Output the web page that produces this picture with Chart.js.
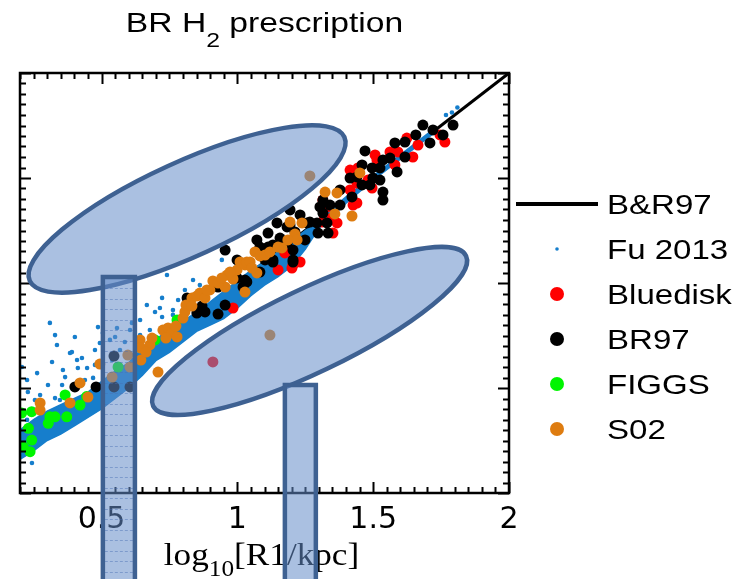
<!DOCTYPE html>
<html>
<head>
<meta charset="utf-8">
<script src="https://cdn.jsdelivr.net/npm/chart.js@4.4.1/dist/chart.umd.min.js"></script>
<style>
  html, body { margin: 0; padding: 0; background: #ffffff; }
  canvas { display: block; }
</style>
</head>
<body>
<canvas id="chart" width="746" height="579"></canvas>
<script>
// ---------------- data ----------------
const xTickValues = [0.5, 1, 1.5, 2];

// Blitz & Rosolowsky relation, one-to-one
const brRelation = [[0.2, 0.2], [2.0, 2.0]];

// Fu 2013 model galaxies: edges of the densely populated ridge
const fuRidgeX     = [0.20, 0.25, 0.30, 0.35, 0.40, 0.45, 0.50, 0.55, 0.60, 0.65, 0.70, 0.75, 0.80, 0.85, 0.90, 0.95, 1.00, 1.05, 1.10, 1.15, 1.20, 1.25, 1.30, 1.40, 1.50, 1.60, 1.72];
const fuRidgeUpper = [0.30, 0.35, 0.39, 0.42, 0.45, 0.48, 0.53, 0.58, 0.62, 0.69, 0.73, 0.78, 0.82, 0.86, 0.91, 0.96, 1.01, 1.06, 1.10, 1.15, 1.20, 1.25, 1.30, 1.41, 1.51, 1.61, 1.73];
const fuRidgeLower = [0.16, 0.20, 0.25, 0.28, 0.32, 0.36, 0.40, 0.45, 0.50, 0.56, 0.63, 0.67, 0.72, 0.77, 0.80, 0.83, 0.88, 0.94, 0.99, 1.03, 1.08, 1.16, 1.26, 1.38, 1.49, 1.59, 1.71];

// Fu 2013 model galaxies away from the ridge
const fuPoints = [
  [0.310,0.810],[0.329,0.752],[0.336,0.705],[0.402,0.743],[0.384,0.667],[0.318,0.624],
  [0.410,0.633],[0.428,0.643],[0.447,0.595],[0.413,0.595],[0.366,0.552],[0.303,0.514],
  [0.329,0.452],[0.229,0.481],[0.207,0.600],[0.255,0.443],[0.476,0.681],[0.494,0.714],
  [0.505,0.762],[0.550,0.743],[0.557,0.786],[0.586,0.719],[0.667,0.895],[0.715,0.881],
  [0.723,0.838],[0.763,0.871],[0.469,0.548],[0.465,0.443],[0.476,0.610],[0.539,0.633],
  [0.612,0.810],[0.391,0.671],[0.487,0.790],[0.723,0.929],[0.763,0.848],[0.226,0.348],
  [0.244,0.143],[0.741,1.038],[0.837,1.014],[0.943,1.110],[0.907,0.981],[0.678,0.776],
  [0.642,0.752],[0.807,0.919],[0.410,0.529],[0.358,0.586],[0.355,0.514],[0.439,0.538],
  [0.263,0.571],[0.226,0.538],[0.274,0.467],[0.347,0.443],[0.568,0.681],[0.531,0.729],
  [0.605,0.776],[0.642,0.824],[0.697,0.862],[0.807,0.967],[0.862,0.990],[0.782,0.919],
  [1.768,1.800],[1.790,1.812],[1.810,1.836]
];

const bluediskPoints = [
  [0.984,0.881],[1.150,1.062],[1.201,1.071],[1.175,1.143],[1.231,1.100],[1.205,1.086],
  [1.315,1.395],[1.330,1.362],[1.348,1.310],[1.367,1.286],[1.352,1.238],[1.312,1.290],
  [1.426,1.371],[1.440,1.381],[1.440,1.476],[1.415,1.538],[1.444,1.548],[1.415,1.443],
  [1.481,1.490],[1.496,1.452],[1.507,1.610],[1.514,1.586],[1.562,1.624],[1.580,1.562],
  [1.591,1.624],[1.624,1.690],[1.665,1.657],[1.646,1.600],[1.746,1.705],[1.764,1.671],
  [0.910,0.624]
];

const br97Points = [
  [0.402,0.505],[0.480,0.505],[0.546,0.652],[0.546,0.505],[0.605,0.505],[0.815,0.929],
  [0.851,0.857],[0.881,0.862],[0.929,0.852],[0.870,0.890],[0.955,0.895],[0.929,0.981],
  [1.035,1.005],[0.999,1.024],[1.021,0.981],[0.955,1.157],[0.999,1.110],[1.028,1.014],
  [1.072,1.205],[1.083,1.171],[1.113,1.238],[1.131,1.110],[1.146,1.286],[1.194,1.348],
  [1.205,1.100],[1.194,1.276],[1.113,1.171],[1.109,1.148],[1.212,1.243],[1.083,1.052],
  [1.231,1.324],[1.183,1.267],[1.256,1.286],[1.267,1.290],[1.157,1.214],[1.212,1.219],
  [1.183,1.190],[1.205,1.157],[1.249,1.205],[1.205,1.110],[1.131,1.181],[1.076,1.148],
  [1.102,1.110],[1.131,1.100],[1.293,1.286],[1.304,1.362],[1.315,1.395],[1.315,1.333],
  [1.330,1.286],[1.297,1.238],[1.334,1.238],[1.341,1.371],[1.378,1.443],[1.378,1.371],
  [1.422,1.410],[1.415,1.500],[1.440,1.505],[1.459,1.467],[1.488,1.467],[1.499,1.500],
  [1.525,1.490],[1.536,1.433],[1.536,1.395],[1.459,1.562],[1.496,1.548],[1.525,1.548],
  [1.588,1.529],[1.470,1.629],[1.536,1.586],[1.562,1.595],[1.580,1.667],[1.617,1.600],
  [1.617,1.671],[1.657,1.705],[1.683,1.752],[1.720,1.729],[1.757,1.705],[1.709,1.667],
  [1.794,1.752]
];

const figgsPoints = [
  [0.206,0.381],[0.243,0.387],[0.231,0.308],[0.212,0.220],[0.243,0.252],[0.237,0.197],
  [0.304,0.332],[0.329,0.363],[0.372,0.363],[0.366,0.467],[0.421,0.419],[0.445,0.459],
  [0.697,0.729],[0.778,0.824],[0.561,0.600],[0.310,0.363]
];

const s02Points = [
  [0.274,0.429],[0.274,0.395],[0.384,0.429],[0.421,0.524],[0.450,0.457],[0.494,0.614],
  [0.539,0.552],[0.597,0.657],[0.605,0.600],[0.642,0.729],[0.645,0.690],[0.645,0.633],
  [0.708,0.576],[0.726,0.776],[0.745,0.786],[0.759,0.762],[0.778,0.743],[0.800,0.833],
  [0.807,0.862],[0.833,0.929],[0.851,0.938],[0.862,0.952],[0.899,0.967],[0.910,1.010],
  [0.955,0.981],[0.962,1.038],[0.984,1.019],[0.999,1.062],[1.010,1.100],[1.028,1.086],
  [1.028,0.957],[1.035,1.100],[1.065,1.148],[1.072,1.048],[1.083,1.129],[1.164,1.167],
  [1.194,1.290],[1.212,1.233],[1.220,1.205],[1.238,1.286],[1.323,1.433],[1.367,1.429],
  [1.359,1.329],[1.422,1.319],[1.451,1.524],[1.267,1.510],[1.120,0.752],
  [0.811,0.895],[0.833,0.890],[0.881,0.929],[0.888,0.967],[0.929,1.000],[0.943,1.024],
  [0.973,1.052],[1.047,1.100],[1.054,1.071],[1.102,1.133],[1.120,1.148],[1.150,1.171],
  [1.186,1.205],[0.678,0.705],[0.664,0.671],[0.737,0.738],[0.774,0.795],[0.686,0.738]
];

// ---------------- styling ----------------
const colors = {
  relation: '#000000',
  fu: 'rgb(22,126,204)',
  bluedisk: '#ff0000',
  br97: '#000000',
  figgs: 'rgb(0,245,0)',
  s02: 'rgb(222,124,16)'
};
const SANS = '"Liberation Sans", Arial, sans-serif';
const SERIF = '"Liberation Serif", "Times New Roman", serif';
const TEXT_STRETCH = 1.18;

// highlight shapes, placed in axis units
const highlightEllipses = [
  { p1: [0.236, 1.010], p2: [1.394, 1.695], ratio: 0.272 },
  { p1: [0.690, 0.414], p2: [1.842, 1.129], ratio: 0.240 }
];
const highlightBars = [
  { x0: 0.505, x1: 0.623, top: 1.029, ruled: true },
  { x0: 1.175, x1: 1.289, top: 0.514, ruled: false }
];
const shapeFill = 'rgba(100,140,200,0.55)';
const shapeEdge = '#3e6192';

const toXY = arr => arr.map(p => ({ x: p[0], y: p[1] }));
const ridge = ys => fuRidgeX.map((x, i) => ({ x, y: ys[i] }));

const dotSet = (label, pts, color, r, order, legendR) => ({
  label, data: toXY(pts), backgroundColor: color, borderWidth: 0,
  pointRadius: r, pointHoverRadius: r, order, legend: { kind: 'dot', r: legendR }
});

// ---------------- plugins ----------------
function stretchedText(ctx, parts, x, baseline, align) {
  let w = 0;
  parts.forEach(p => { ctx.font = p.font; p.w = ctx.measureText(p.text).width; w += p.w; });
  ctx.save();
  ctx.translate(x, baseline);
  ctx.scale(parts.stretch || TEXT_STRETCH, 1);
  let cx = align === 'left' ? 0 : -w / 2;
  ctx.textBaseline = 'alphabetic';
  ctx.textAlign = 'left';
  ctx.fillStyle = '#000';
  parts.forEach(p => { ctx.font = p.font; ctx.fillText(p.text, cx, p.dy || 0); cx += p.w; });
  ctx.restore();
}

const frameAndTicks = {
  id: 'frameAndTicks',
  afterDatasetsDraw(chart) {
    const { ctx, chartArea: a, scales: { x, y } } = chart;
    ctx.save();
    ctx.strokeStyle = '#000';
    ctx.lineWidth = 2;
    ctx.lineCap = 'butt';
    const isMajor = v => Math.abs(v / 0.5 - Math.round(v / 0.5)) < 1e-6;
    ctx.beginPath();
    for (let i = 0; i <= 36; i++) {
      const v = 0.2 + i * 0.05;
      const px = Math.round(x.getPixelForValue(v)) + 0.5;
      const len = isMajor(v) ? 11 : 6;
      ctx.moveTo(px, a.bottom); ctx.lineTo(px, a.bottom - len);
      ctx.moveTo(px, a.top); ctx.lineTo(px, a.top + len);
    }
    for (let i = 0; i <= 40; i++) {
      const v = i * 0.05;
      const py = Math.round(y.getPixelForValue(v)) + 0.5;
      const len = isMajor(v) ? 11 : 6;
      ctx.moveTo(a.left, py); ctx.lineTo(a.left + len, py);
      ctx.moveTo(a.right, py); ctx.lineTo(a.right - len, py);
    }
    ctx.stroke();
    ctx.lineWidth = 2.5;
    ctx.strokeRect(a.left, a.top, a.right - a.left, a.bottom - a.top);
    ctx.restore();
  }
};

const decorations = {
  id: 'decorations',
  afterDraw(chart) {
    const { ctx, chartArea: a, scales: { x, y } } = chart;
    const mid = (a.left + a.right) / 2;

    // title
    stretchedText(ctx, [
      { text: 'BR H', font: `28.5px ${SANS}` },
      { text: '2', font: `21px ${SANS}`, dy: 15 },
      { text: ' prescription', font: `28.5px ${SANS}` }
    ], mid, 32);

    // x-axis title
    const xt = [
      { text: 'log', font: `32px ${SERIF}` },
      { text: '10', font: `23px ${SERIF}`, dy: 11 },
      { text: '[R1/kpc]', font: `32px ${SERIF}` }
    ];
    xt.stretch = 1.1;
    stretchedText(ctx, xt, mid - 3, 565);

    // legend
    const items = chart.data.datasets.filter(d => d.legend);
    items.forEach((d, i) => {
      const cy = 204 + i * 45;
      ctx.save();
      if (d.legend.kind === 'line') {
        ctx.strokeStyle = d.borderColor;
        ctx.lineWidth = 4;
        ctx.beginPath(); ctx.moveTo(516, cy); ctx.lineTo(598, cy); ctx.stroke();
      } else {
        ctx.fillStyle = d.backgroundColor;
        ctx.beginPath(); ctx.arc(557, cy, d.legend.r, 0, Math.PI * 2); ctx.fill();
      }
      ctx.restore();
      stretchedText(ctx, [{ text: d.label, font: `28px ${SANS}` }], 607, cy + 10, 'left');
    });

    // highlight ellipses
    ctx.save();
    ctx.fillStyle = shapeFill;
    ctx.strokeStyle = shapeEdge;
    ctx.lineWidth = 4.5;
    highlightEllipses.forEach(e => {
      const x1 = x.getPixelForValue(e.p1[0]), y1 = y.getPixelForValue(e.p1[1]);
      const x2 = x.getPixelForValue(e.p2[0]), y2 = y.getPixelForValue(e.p2[1]);
      const cx = (x1 + x2) / 2, cy = (y1 + y2) / 2;
      const semiMajor = Math.hypot(x2 - x1, y2 - y1) / 2;
      const rot = Math.atan2(y2 - y1, x2 - x1);
      ctx.beginPath();
      ctx.ellipse(cx, cy, semiMajor, semiMajor * e.ratio, rot, 0, Math.PI * 2);
      ctx.fill();
      ctx.stroke();
    });

    // highlight bars, running down past the axis
    const bottom = chart.height + 10;
    highlightBars.forEach(b => {
      const l = x.getPixelForValue(b.x0), r = x.getPixelForValue(b.x1);
      const t = y.getPixelForValue(b.top);
      ctx.fillStyle = shapeFill;
      ctx.fillRect(l, t, r - l, bottom - t);
      if (b.ruled) {
        ctx.save();
        ctx.strokeStyle = 'rgba(70,110,180,0.45)';
        ctx.lineWidth = 1;
        ctx.setLineDash([3, 2]);
        ctx.beginPath();
        for (let v = 0.975; ; v -= 0.05) {
          const py = y.getPixelForValue(v);
          if (py > chart.height) break;
          if (py < t + 4) continue;
          ctx.moveTo(l + 2, Math.round(py) + 0.5); ctx.lineTo(r - 2, Math.round(py) + 0.5);
        }
        ctx.stroke();
        ctx.restore();
      }
      ctx.strokeStyle = shapeEdge;
      ctx.lineWidth = 4.5;
      ctx.beginPath();
      ctx.moveTo(l, bottom); ctx.lineTo(l, t); ctx.lineTo(r, t); ctx.lineTo(r, bottom);
      ctx.stroke();
    });
    ctx.restore();
  }
};

// ---------------- chart ----------------
new Chart(document.getElementById('chart'), {
  type: 'scatter',
  data: {
    datasets: [
      { label: 'B&R97', type: 'line', data: toXY(brRelation), borderColor: colors.relation,
        borderWidth: 3, pointRadius: 0, fill: false, order: 7, legend: { kind: 'line' } },
      { label: 'Fu 2013 ridge', type: 'line', data: ridge(fuRidgeUpper), borderColor: colors.fu,
        backgroundColor: colors.fu, borderWidth: 1.5, pointRadius: 0, fill: '+1', order: 6 },
      { label: 'Fu 2013 ridge base', type: 'line', data: ridge(fuRidgeLower), borderColor: colors.fu,
        borderWidth: 1.5, pointRadius: 0, fill: false, order: 6 },
      dotSet('Fu 2013', fuPoints, colors.fu, 2.3, 5, 1.8),
      dotSet('Bluedisk', bluediskPoints, colors.bluedisk, 5.5, 4, 7),
      dotSet('BR97', br97Points, colors.br97, 5.5, 3, 7),
      dotSet('FIGGS', figgsPoints, colors.figgs, 5.5, 2, 7),
      dotSet('S02', s02Points, colors.s02, 5.5, 1, 7)
    ]
  },
  options: {
    responsive: false,
    devicePixelRatio: 1,
    animation: false,
    events: [],
    layout: { padding: { left: 20, right: 237, top: 73, bottom: 0 } },
    plugins: { legend: { display: false }, tooltip: { enabled: false }, title: { display: false } },
    scales: {
      x: {
        type: 'linear', min: 0.2, max: 2.0,
        afterBuildTicks: s => { s.ticks = xTickValues.map(v => ({ value: v })); },
        afterFit: s => { s.height = 86; },
        grid: { display: false, drawTicks: false },
        border: { display: false },
        ticks: {
          callback: v => String(v),
          autoSkip: false, maxRotation: 0, padding: 9, color: '#000',
          font: { family: '"DejaVu Sans", sans-serif', size: 30, lineHeight: 1.2 }
        }
      },
      y: { type: 'linear', min: 0, max: 2, display: false }
    }
  },
  plugins: [frameAndTicks, decorations]
});
</script>
</body>
</html>
